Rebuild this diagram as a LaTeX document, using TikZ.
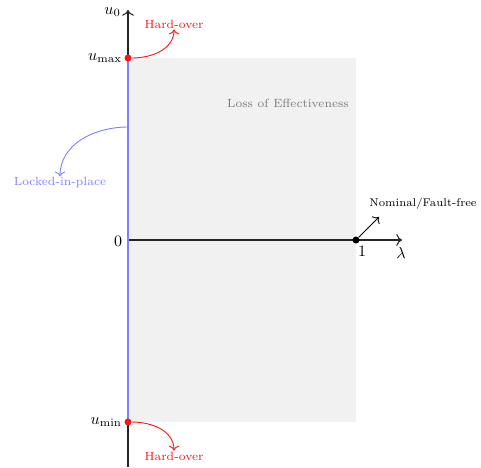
\documentclass[tikz,border=0pt]{standalone}
\usepackage{graphicx}
\usetikzlibrary{arrows.meta}
\definecolor{lgray}{RGB}{241,241,241}
\definecolor{lockblue}{RGB}{128,128,255}
\definecolor{hardred}{RGB}{255,20,20}
\definecolor{loegray}{RGB}{125,125,125}
\newcommand{\lbltext}[1]{\scalebox{1.7}{\scriptsize #1}}
\newcommand{\mathlbl}[1]{\scalebox{1.6}{$#1$}}
\tikzset{
  lbl/.style={inner sep=1pt},
  dotnode/.style={circle, fill, inner sep=0pt, minimum size=7pt},
  axis/.style={line width=1.1pt, black!85},
  tip/.style={-{To[scale=1.4]}},
  curve/.style={line width=0.9pt, tip},
}
\begin{document}
\begin{tikzpicture}[x=1pt,y=-1pt]
\useasboundingbox (0,0) rectangle (481,467);
% admissible region
\fill[lgray] (128,58) rectangle (356,422);
\node[lbl, text=loegray] (loe) at (288,103) {\lbltext{Loss of Effectiveness}};

% key coordinates
\coordinate (origin) at (128,240);
\coordinate (ytop) at (128,10);
\coordinate (ybot) at (128,467);
\coordinate (xend) at (402,240);
\coordinate (lockstart) at (128,127);

% axes
\draw[axis] (ybot) -- (128,422);
\draw[axis, tip] (128,58) -- (ytop);
\draw[axis, tip] (origin) -- (xend);
\draw[lockblue, line width=2.4pt] (128,58) -- (128,422);

\node[anchor=east, inner sep=1pt] (u0) at (122,12) {\mathlbl{u_0}};
\node[inner sep=1pt] (lam) at (401,253) {\mathlbl{\lambda}};
\node[inner sep=1pt] (zero) at (118,241) {\mathlbl{0}};

% saturation limits
\node[dotnode, hardred] (umax) at (128,58) {};
\node[dotnode, hardred] (umin) at (128,422) {};
\node[anchor=east, inner sep=1pt] (umaxl) at (123,58) {\mathlbl{u_{\max}}};
\node[anchor=east, inner sep=1pt] (uminl) at (123,422) {\mathlbl{u_{\min}}};

% hard-over faults
\node[lbl, text=hardred] (hoTop) at (174,24) {\lbltext{Hard-over}};
\node[lbl, text=hardred] (hoBot) at (174,456) {\lbltext{Hard-over}};
\draw[hardred, curve] (umax) to[out=0, in=-90] (hoTop.south);
\draw[hardred, curve] (umin) to[out=0, in=90] (hoBot.north);

% locked-in-place fault
\node[lbl, text=lockblue] (lip) at (60,183) {\lbltext{Locked-in-place}};
\draw[lockblue, curve] (lockstart) to[out=180, in=90] (lip.north);

% nominal point
\node[dotnode, black] (nom) at (356,240) {};
\node[inner sep=1pt] (one) at (362,251) {\mathlbl{1}};
\node[lbl] (nomlbl) at (423,204) {\scalebox{1.6}{\scriptsize Nominal/Fault-free}};
\draw[line width=0.9pt, tip] (nom) -- (379,217);
\end{tikzpicture}
\end{document}
